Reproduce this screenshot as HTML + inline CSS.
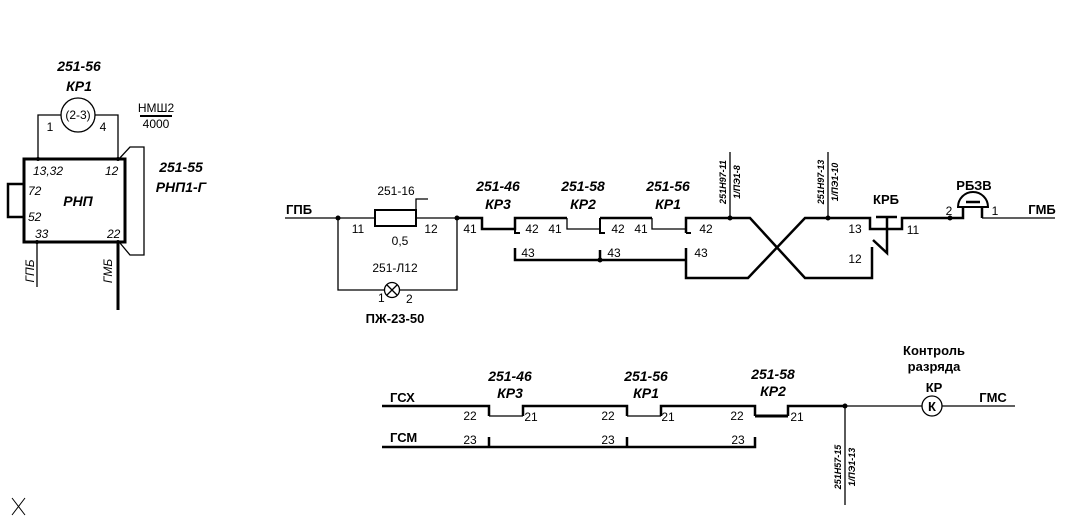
<!DOCTYPE html>
<html><head><meta charset="utf-8"><style>
html,body{margin:0;padding:0;background:#fff;}
svg{display:block;}
text{font-family:"Liberation Sans","DejaVu Sans",sans-serif;fill:#000;}
.bi{font-weight:bold;font-style:italic;font-size:14px;}
.b{font-weight:bold;font-size:13px;}
.n{font-size:12px;}
.it{font-style:italic;font-size:12px;}
.s{font-style:italic;font-weight:bold;font-size:9px;}
</style></head><body>
<svg width="1070" height="517" viewBox="0 0 1070 517" xmlns="http://www.w3.org/2000/svg">
<g stroke="#000" fill="none" stroke-width="1.3">
<circle cx="78" cy="115" r="17"/>
<path d="M61 115H38V159M95 115H118V159"/>
<rect x="24" y="159" width="101" height="83" stroke-width="3"/>
<path d="M24 184H8V217H24" stroke-width="2.5"/>
<path d="M118 160L130 147H144V255H130L120 243"/>
<path d="M37 242V287"/>
<path d="M118 242V310" stroke-width="3"/>
<path d="M140 116H172" stroke-width="2"/>
<path d="M285 218H375M416 218H457"/>
<rect x="375" y="210" width="41" height="16" stroke-width="2"/>
<path d="M416 210V199H428"/>
<path d="M338 218V290H385M399 290H457V218"/>
<circle cx="392" cy="290" r="7.5"/>
<path d="M387 285L397 295M397 285L387 295"/>
<path d="M457 218H482V229H515V218H567" stroke-width="2.5"/>
<path d="M515 218V233H520" stroke-width="2"/>
<path d="M567 218V229H600"/>
<path d="M600 218H652" stroke-width="2.5"/>
<path d="M600 218V233H605" stroke-width="2"/>
<path d="M652 218V229H686"/>
<path d="M686 233V218H750L805 278H872V247" stroke-width="2.5"/>
<path d="M686 233H691" stroke-width="2"/>
<path d="M515 248V260H686M600 250V260" stroke-width="2.5"/>
<path d="M686 248V278H748L805 218H870V229H902V218H963V207M982 207V218" stroke-width="2.5"/>
<path d="M982 218H1055" stroke-width="1.3"/>
<path d="M876 217H897M887 217V253L873 240" stroke-width="2.5"/>
<path d="M958 207A15 15 0 0 1 988 207Z" stroke-width="2"/>
<path d="M966 202H980" stroke-width="2.5"/>
<path d="M730 218V152M828 218V152"/>
<path d="M382 406H489V416M523 416V406H627V416M661 416V406H755V416M788 416V406H845" stroke-width="2.5"/>
<path d="M489 416H523M627 416H661M788 406H922M942 406H1015"/>
<path d="M755 416H788" stroke-width="3"/>
<path d="M382 447H755V437M489 437V447M627 437V447" stroke-width="2.5"/>
<circle cx="932" cy="406" r="10"/>
<path d="M845 406V505"/>
<path d="M12 498L25 515M25 498L12 515" stroke-width="1"/>
</g>
<g fill="#000">
<circle cx="338" cy="218" r="2.5"/><circle cx="457" cy="218" r="2.5"/>
<circle cx="730" cy="218" r="2.5"/><circle cx="828" cy="218" r="2.5"/>
<circle cx="600" cy="260" r="2.5"/><circle cx="950" cy="218" r="2.5"/>
<circle cx="845" cy="406" r="2.5"/>
<circle cx="38" cy="159" r="2"/><circle cx="118" cy="159" r="2"/>
<circle cx="37" cy="242" r="2"/><circle cx="118" cy="242" r="2"/>
</g>
<text class="bi" x="79" y="71" text-anchor="middle">251-56</text>
<text class="bi" x="79" y="91" text-anchor="middle">КР1</text>
<text class="n" x="78" y="119" text-anchor="middle">(2-3)</text>
<text class="n" x="50" y="131" text-anchor="middle">1</text>
<text class="n" x="103" y="131" text-anchor="middle">4</text>
<text class="n" x="156" y="112" text-anchor="middle">НМШ2</text>
<text class="n" x="156" y="128" text-anchor="middle">4000</text>
<text class="it" x="33" y="175">13,32</text>
<text class="it" x="105" y="175">12</text>
<text class="it" x="28" y="195">72</text>
<text class="bi" x="78" y="206" text-anchor="middle">РНП</text>
<text class="it" x="28" y="221">52</text>
<text class="it" x="35" y="238">33</text>
<text class="it" x="107" y="238">22</text>
<text class="bi" x="181" y="172" text-anchor="middle">251-55</text>
<text class="bi" x="181" y="192" text-anchor="middle">РНП1-Г</text>
<text class="it" transform="translate(34,271) rotate(-90)" text-anchor="middle">ГПБ</text>
<text class="it" transform="translate(112,271) rotate(-90)" text-anchor="middle">ГМБ</text>
<text class="b" x="286" y="214">ГПБ</text>
<text class="n" x="396" y="195" text-anchor="middle">251-16</text>
<text class="n" x="358" y="233" text-anchor="middle">11</text>
<text class="n" x="431" y="233" text-anchor="middle">12</text>
<text class="n" x="400" y="245" text-anchor="middle">0,5</text>
<text class="n" x="395" y="272" text-anchor="middle">251-Л12</text>
<text class="n" x="378" y="302" font-size="10">1</text>
<text class="n" x="406" y="303" font-size="10">2</text>
<text class="b" x="395" y="323" text-anchor="middle">ПЖ-23-50</text>
<text class="n" x="470" y="233" text-anchor="middle">41</text>
<text class="bi" x="498" y="191" text-anchor="middle">251-46</text>
<text class="bi" x="498" y="209" text-anchor="middle">КР3</text>
<text class="bi" x="583" y="191" text-anchor="middle">251-58</text>
<text class="bi" x="583" y="209" text-anchor="middle">КР2</text>
<text class="bi" x="668" y="191" text-anchor="middle">251-56</text>
<text class="bi" x="668" y="209" text-anchor="middle">КР1</text>
<text class="n" x="532" y="233" text-anchor="middle">42</text>
<text class="n" x="555" y="233" text-anchor="middle">41</text>
<text class="n" x="618" y="233" text-anchor="middle">42</text>
<text class="n" x="641" y="233" text-anchor="middle">41</text>
<text class="n" x="706" y="233" text-anchor="middle">42</text>
<text class="n" x="528" y="257" text-anchor="middle">43</text>
<text class="n" x="614" y="257" text-anchor="middle">43</text>
<text class="n" x="701" y="257" text-anchor="middle">43</text>
<text class="n" x="855" y="233" text-anchor="middle">13</text>
<text class="n" x="855" y="263" text-anchor="middle">12</text>
<text class="n" x="913" y="234" text-anchor="middle">11</text>
<text class="b" x="886" y="204" text-anchor="middle">КРБ</text>
<text class="b" x="974" y="190" text-anchor="middle">РБЗВ</text>
<text class="n" x="949" y="215" text-anchor="middle">2</text>
<text class="n" x="995" y="215" text-anchor="middle">1</text>
<text class="b" x="1042" y="214" text-anchor="middle">ГМБ</text>
<text class="s" transform="translate(726,182) rotate(-90)" text-anchor="middle">251Н97-11</text>
<text class="s" transform="translate(740,182) rotate(-90)" text-anchor="middle">1/ПЭ1-8</text>
<text class="s" transform="translate(824,182) rotate(-90)" text-anchor="middle">251Н97-13</text>
<text class="s" transform="translate(838,182) rotate(-90)" text-anchor="middle">1/ПЭ1-10</text>
<text class="b" x="390" y="402">ГСХ</text>
<text class="b" x="390" y="442">ГСМ</text>
<text class="bi" x="510" y="381" text-anchor="middle">251-46</text>
<text class="bi" x="510" y="398" text-anchor="middle">КР3</text>
<text class="bi" x="646" y="381" text-anchor="middle">251-56</text>
<text class="bi" x="646" y="398" text-anchor="middle">КР1</text>
<text class="bi" x="773" y="379" text-anchor="middle">251-58</text>
<text class="bi" x="773" y="396" text-anchor="middle">КР2</text>
<text class="n" x="470" y="420" text-anchor="middle">22</text>
<text class="n" x="531" y="421" text-anchor="middle">21</text>
<text class="n" x="608" y="420" text-anchor="middle">22</text>
<text class="n" x="668" y="421" text-anchor="middle">21</text>
<text class="n" x="737" y="420" text-anchor="middle">22</text>
<text class="n" x="797" y="421" text-anchor="middle">21</text>
<text class="n" x="470" y="444" text-anchor="middle">23</text>
<text class="n" x="608" y="444" text-anchor="middle">23</text>
<text class="n" x="738" y="444" text-anchor="middle">23</text>
<text class="b" x="934" y="355" text-anchor="middle">Контроль</text>
<text class="b" x="934" y="371" text-anchor="middle">разряда</text>
<text class="b" x="934" y="392" text-anchor="middle">КР</text>
<text class="b" x="932" y="411" text-anchor="middle" font-size="11">К</text>
<text class="b" x="993" y="402" text-anchor="middle">ГМС</text>
<text class="s" transform="translate(841,467) rotate(-90)" text-anchor="middle">251Н57-15</text>
<text class="s" transform="translate(855,467) rotate(-90)" text-anchor="middle">1/ПЭ1-13</text>
</svg>
</body></html>
